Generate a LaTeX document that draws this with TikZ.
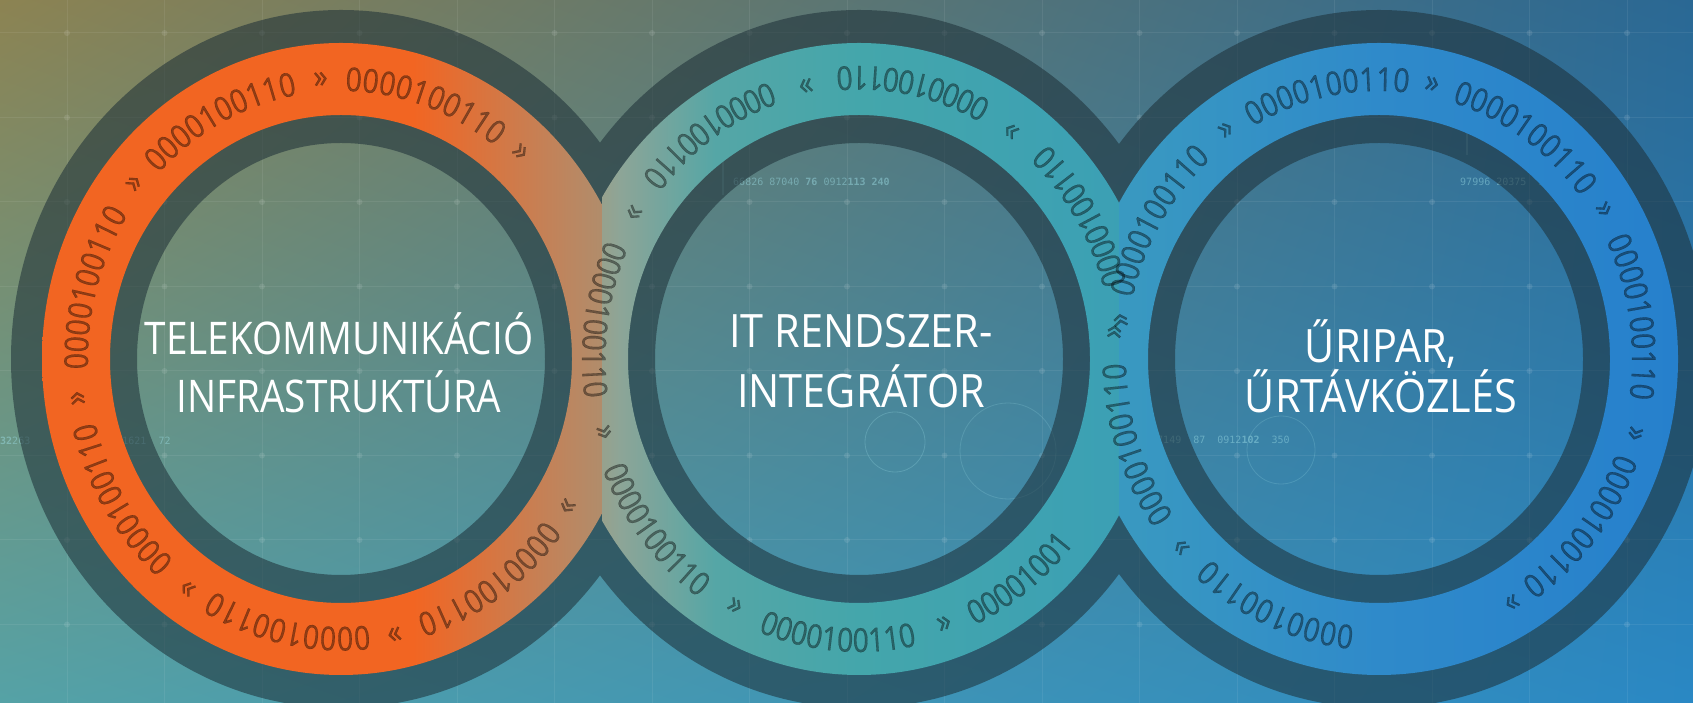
\documentclass[tikz,border=0pt]{standalone}
\usepackage{fontspec}
\newfontfamily\labfont[FakeStretch=0.86]{Open Sans}
\newfontfamily\labfontw[FakeStretch=0.9]{Open Sans}
\newfontfamily\binfnt[FakeStretch=0.86,FakeBold=0.5]{Open Sans}
\newfontfamily\hudfont{DejaVu Sans Mono}
\usetikzlibrary{decorations.text,calc,shadings}
\definecolor{bgUL}{HTML}{8C8352}
\definecolor{bgUR}{HTML}{2A6894}
\definecolor{bgLL}{HTML}{55A2A6}
\definecolor{bgLR}{HTML}{2A88C4}
\definecolor{darkov}{HTML}{1C2E36}
\definecolor{orng}{HTML}{F26522}
\definecolor{tanA}{HTML}{BC8660}
\definecolor{tanB}{HTML}{A39478}
\definecolor{greyA}{HTML}{A89A7C}
\definecolor{greyB}{HTML}{8DA597}
\definecolor{tealA}{HTML}{55A6A6}
\definecolor{tealB}{HTML}{44A6AB}
\definecolor{tealC}{HTML}{3A9FB6}
\definecolor{blueA}{HTML}{3A9AC0}
\definecolor{blueB}{HTML}{2F8ACA}
\definecolor{blueC}{HTML}{2680CC}
\definecolor{hud}{HTML}{9FE0E8}
\pgfdeclarehorizontalshading{bandone}{100bp}{color(0bp)=(orng); color(25bp)=(orng); color(56bp)=(orng); color(69bp)=(tanA); color(75bp)=(tanB); color(100bp)=(tanB)}
\pgfdeclarehorizontalshading{bandtwo}{100bp}{color(0bp)=(greyA); color(26bp)=(greyA); color(30bp)=(greyB); color(38bp)=(tealA); color(50bp)=(tealB); color(75bp)=(tealC); color(100bp)=(tealC)}
\pgfdeclarehorizontalshading{bandthree}{100bp}{color(0bp)=(blueA); color(27bp)=(blueA); color(50bp)=(blueB); color(75bp)=(blueC); color(100bp)=(blueC)}
\newcommand\binsz{\binfnt\fontsize{33}{33}\selectfont}
% clockwise group (tops outward)
\newcommand\cwgroup[3]{%
  \path[decorate,decoration={text along path,text align=center,text={|\binsz|#3}}]
    ($(#1)+({253*cos(#2+30)},{268*sin(#2+30)})$) arc[start angle=#2+30,end angle=#2-30,x radius=253,y radius=268];}
% counterclockwise group (tops inward)
\newcommand\ccwgroup[3]{%
  \path[decorate,decoration={text along path,text align=center,text={|\binsz|#3}}]
    ($(#1)+({277*cos(#2-30)},{293*sin(#2-30)})$) arc[start angle=#2-30,end angle=#2+30,x radius=277,y radius=293];}
\tikzset{
  arrowmark/.style={font=\binsz,inner sep=0pt},
  label/.style={font=\labfont\fontsize{45}{58}\selectfont,text=white,anchor=base,inner sep=0pt},
  labelw/.style={font=\labfontw\fontsize{46}{58}\selectfont,text=white,anchor=base,inner sep=0pt},
  hudtxt/.style={font=\hudfont\fontsize{10}{10}\selectfont,text=hud,opacity=0.45,anchor=base west,inner sep=0pt},
  hudline/.style={hud,opacity=0.2,line width=0.8pt},
}
\begin{document}
\begin{tikzpicture}[x=1pt,y=1pt]
\useasboundingbox (0,0) rectangle (1693,703);
\clip (0,0) rectangle (1693,703);
% background
\shade[upper left=bgUL,upper right=bgUR,lower left=bgLL,lower right=bgLR] (0,0) rectangle (1693,703);
% faint grid
\begin{scope}[white,opacity=0.07,line width=1pt]
  \foreach \gx in {67,164.5,...,1693} \draw (\gx,0) -- (\gx,703);
  \foreach \gy in {670,585.5,...,0} \draw (0,\gy) -- (1693,\gy);
\end{scope}
\begin{scope}[white,opacity=0.10]
  \foreach \gx in {67,164.5,...,1693}
    \foreach \gy in {670,585.5,...,0} \fill (\gx,\gy) circle (3);
\end{scope}
% hud numbers, bars and circles
\node[hudtxt] (h1) at (733,517) {66826 87040 \textbf{76} 0912\textbf{113} \textbf{240}};
\node[hudtxt] (h2) at (0,258) {\textbf{32}263 \hspace{68pt}9911621 \ 72};
\node[hudtxt] (h3) at (1460,517) {97996 20375 \ 56};
\node[hudtxt] (h4) at (1157,259) {7149 \ 87 \ 0912\textbf{102} \ 350};
\coordinate (b1a) at (723,543); \coordinate (b1b) at (723,508);
\coordinate (b2a) at (1467,578); \coordinate (b2b) at (1467,548);
\draw[hudline,line width=2pt] (b1a) -- (b1b);
\draw[hudline,line width=2pt] (b2a) -- (b2b);
\draw[hud,opacity=0.25,line width=0.8pt] (895,261) circle (30);
\draw[hud,opacity=0.2,line width=0.8pt] (1008,252) circle (48);
\draw[hud,opacity=0.2,line width=0.8pt] (1281,253) circle (34);
\coordinate (c1) at (341,344);
\coordinate (c2) at (859,344);
\coordinate (c3) at (1379,344);
% dark outlines
\begin{scope}[even odd rule]
  \clip (0,0) rectangle (1693,703)
    (c1) ellipse[x radius=204,y radius=216]
    (c2) ellipse[x radius=204,y radius=216]
    (c3) ellipse[x radius=204,y radius=216];
  \fill[nonzero rule,darkov,opacity=0.55]
    (c1) ellipse[x radius=330,y radius=349]
    (c2) ellipse[x radius=330,y radius=349]
    (c3) ellipse[x radius=330,y radius=349];
\end{scope}
% coloured bands
\begin{scope}
  \clip (0,0) rectangle (602,703);
  \shade[shading=bandone,even odd rule] (c1) ellipse[x radius=299,y radius=316] (c1) ellipse[x radius=231,y radius=244];
\end{scope}
\begin{scope}
  \clip (602,0) rectangle (1119,703);
  \shade[shading=bandtwo,even odd rule] (c2) ellipse[x radius=299,y radius=316] (c2) ellipse[x radius=231,y radius=244];
\end{scope}
\begin{scope}
  \clip (1119,0) rectangle (1693,703);
  \shade[shading=bandthree,even odd rule] (c3) ellipse[x radius=299,y radius=316] (c3) ellipse[x radius=231,y radius=244];
\end{scope}
% binary texts
\begin{scope}[opacity=0.4]
  \foreach \a in {305,258.2,211.4,164.6,117.8,71} {\cwgroup{c1}{\a}{0000100110}}
  \foreach \a [count=\i] in {328.4,281.6,234.8,188,141.2,94.4,47.6}
    \node[arrowmark,rotate=\a-90] (ra\i) at ($(c1)+({265*cos(\a)},{280*sin(\a)})$) {»};
  \foreach \a in {31.4,78.2,125,171.8,218.6,265.4} {\ccwgroup{c2}{\a}{0000100110}}
  \ccwgroup{c2}{307.5}{00001001}
  \foreach \a [count=\i] in {8,54.8,101.6,148.4,195.2,242,288.8}
    \node[arrowmark,rotate=\a+90] (rb\i) at ($(c2)+({265*cos(\a)},{280*sin(\a)})$) {»};
  \foreach \a in {149,101.5,55.5,9,-38.5,-113.5,-161.5} {\cwgroup{c3}{\a}{0000100110}}
  \foreach \a [count=\i] in {125.2,78.5,32.2,-15.4,-60,-138,174.4}
    \node[arrowmark,rotate=\a-90] (rc\i) at ($(c3)+({265*cos(\a)},{280*sin(\a)})$) {»};
\end{scope}
% labels
\node[label] (t1a) at (339,348) {TELEKOMMUNIKÁCIÓ};
\node[label] (t1b) at (339,290) {INFRASTRUKTÚRA};
\node[labelw] (t2a) at (861,355) {IT RENDSZER-};
\node[labelw] (t2b) at (861,295) {INTEGRÁTOR};
\node[labelw] (t3a) at (1381,340) {ŰRIPAR,};
\node[labelw] (t3b) at (1381,290) {ŰRTÁVKÖZLÉS};
\end{tikzpicture}
\end{document}
